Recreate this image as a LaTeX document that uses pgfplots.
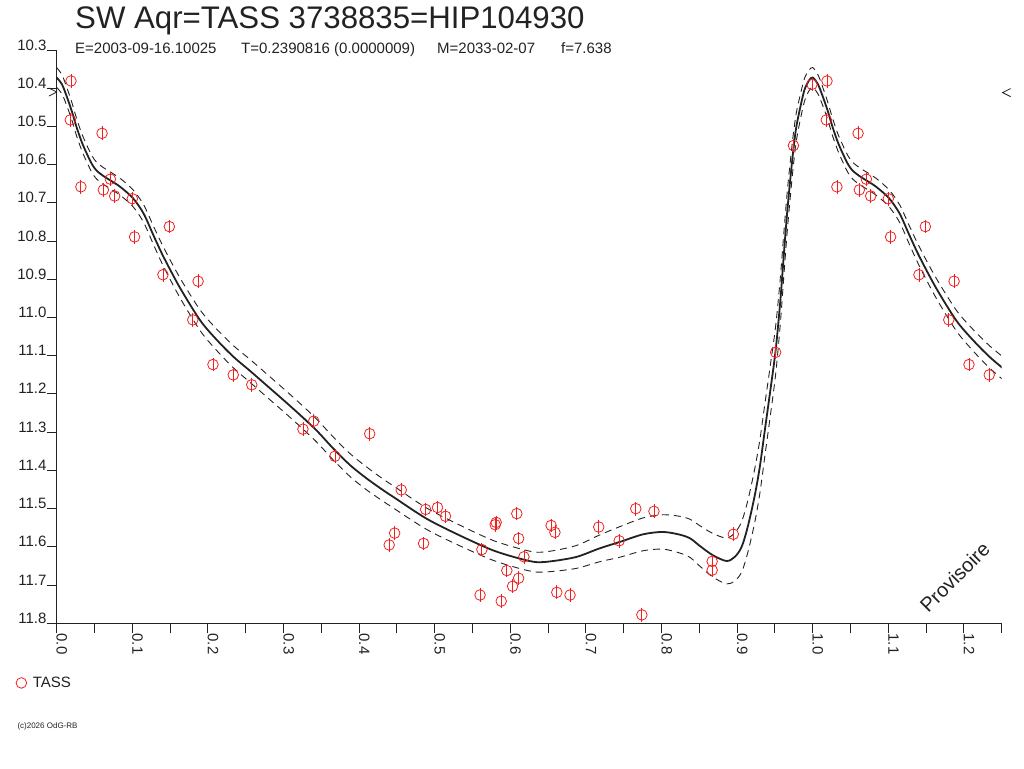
\documentclass[border=0pt]{standalone}
\usepackage{pgfplots}
\usepackage{pgfplotstable}
\pgfplotsset{compat=1.18}
\usepackage{fontspec}
\setmainfont{Liberation Sans}
\definecolor{ink}{HTML}{222222}
\definecolor{ptred}{HTML}{F02020}

\pgfplotstableread{
ph mag
0.0189 10.381
0.0180 10.483
0.0600 10.518
0.0320 10.658
0.0710 10.638
0.0617 10.666
0.0767 10.682
0.1000 10.689
0.1490 10.762
0.1030 10.789
0.1405 10.888
0.1870 10.905
0.1800 11.006
0.2067 11.123
0.2335 11.150
0.2580 11.176
0.3400 11.271
0.3257 11.292
0.4140 11.304
0.3680 11.363
0.4557 11.451
0.4880 11.502
0.5037 11.497
0.5143 11.520
0.4470 11.564
0.4398 11.595
0.4853 11.591
0.5813 11.536
0.5800 11.542
0.6086 11.513
0.5624 11.607
0.6110 11.578
0.6180 11.626
0.6540 11.544
0.6590 11.562
0.7170 11.548
0.7440 11.584
0.7660 11.500
0.7900 11.507
0.5954 11.662
0.6110 11.682
0.6030 11.703
0.5600 11.726
0.5880 11.742
0.6615 11.719
0.6790 11.726
0.7740 11.778
0.8950 11.567
0.8670 11.638
0.8670 11.661
0.9990 10.390
0.9745 10.550
0.9510 11.091
1.0189 10.381
1.0180 10.483
1.0600 10.518
1.0320 10.658
1.0710 10.638
1.0617 10.666
1.0767 10.682
1.1000 10.689
1.1490 10.762
1.1030 10.789
1.1405 10.888
1.1870 10.905
1.1800 11.006
1.2067 11.123
1.2335 11.150
}\tass

\pgfplotstableread{
ph mean up lo
0.000 10.372 10.346 10.398
0.007 10.390 10.365 10.415
0.013 10.420 10.396 10.444
0.020 10.460 10.437 10.483
0.026 10.500 10.477 10.523
0.033 10.540 10.518 10.562
0.040 10.572 10.550 10.594
0.047 10.600 10.578 10.622
0.053 10.616 10.594 10.638
0.062 10.630 10.608 10.652
0.070 10.640 10.618 10.662
0.084 10.658 10.636 10.680
0.101 10.688 10.666 10.710
0.115 10.728 10.705 10.751
0.128 10.785 10.761 10.809
0.141 10.840 10.815 10.865
0.163 10.922 10.896 10.948
0.190 11.008 10.981 11.035
0.212 11.059 11.031 11.087
0.234 11.103 11.074 11.132
0.256 11.140 11.110 11.170
0.278 11.178 11.148 11.208
0.300 11.216 11.186 11.246
0.322 11.255 11.225 11.285
0.344 11.296 11.266 11.326
0.366 11.343 11.313 11.373
0.388 11.386 11.356 11.416
0.410 11.421 11.391 11.451
0.432 11.452 11.423 11.481
0.445 11.469 11.440 11.498
0.489 11.526 11.498 11.554
0.533 11.570 11.543 11.597
0.577 11.609 11.583 11.635
0.613 11.631 11.605 11.657
0.635 11.640 11.614 11.666
0.657 11.637 11.610 11.664
0.688 11.626 11.596 11.656
0.718 11.604 11.569 11.639
0.745 11.587 11.547 11.627
0.776 11.567 11.524 11.610
0.802 11.561 11.516 11.606
0.824 11.568 11.520 11.616
0.838 11.578 11.528 11.628
0.851 11.598 11.545 11.651
0.868 11.622 11.565 11.679
0.886 11.637 11.577 11.697
0.897 11.626 11.563 11.689
0.906 11.600 11.534 11.666
0.914 11.548 11.480 11.616
0.923 11.469 11.399 11.539
0.930 11.391 11.321 11.461
0.937 11.290 11.222 11.358
0.944 11.190 11.124 11.256
0.951 11.085 11.022 11.148
0.957 10.960 10.900 11.020
0.962 10.830 10.774 10.886
0.966 10.730 10.678 10.782
0.970 10.645 10.598 10.692
0.974 10.568 10.526 10.610
0.978 10.505 10.468 10.542
0.983 10.455 10.422 10.488
0.989 10.405 10.375 10.435
0.995 10.380 10.353 10.407
1.000 10.372 10.346 10.398
1.007 10.390 10.365 10.415
1.013 10.420 10.396 10.444
1.020 10.460 10.437 10.483
1.026 10.500 10.477 10.523
1.033 10.540 10.518 10.562
1.040 10.572 10.550 10.594
1.047 10.600 10.578 10.622
1.053 10.616 10.594 10.638
1.062 10.630 10.608 10.652
1.070 10.640 10.618 10.662
1.084 10.658 10.636 10.680
1.101 10.688 10.666 10.710
1.115 10.728 10.705 10.751
1.128 10.785 10.761 10.809
1.141 10.840 10.815 10.865
1.163 10.922 10.896 10.948
1.190 11.008 10.981 11.035
1.212 11.059 11.031 11.087
1.234 11.103 11.074 11.132
1.256 11.140 11.110 11.170
}\fit

\begin{document}
\begin{tikzpicture}
\path[use as bounding box] (0pt,0pt) rectangle (1024pt,768pt);
\begin{axis}[
  at={(56.7pt,144.7pt)}, anchor=south west,
  scale only axis, width=945pt, height=573.3pt,
  xmin=0, xmax=1.25, ymin=10.3, ymax=11.8, y dir=reverse,
  axis x line*=bottom, axis y line*=left,
  x axis line style={-}, y axis line style={-},
  axis line style={ink, line width=1pt},
  clip mode=individual,
  xtick={0,0.1,0.2,0.3,0.4,0.5,0.6,0.7,0.8,0.9,1.0,1.1,1.2},
  minor xtick={0.05,0.15,0.25,0.35,0.45,0.55,0.65,0.75,0.85,0.95,1.05,1.15,1.25},
  ytick={10.3,10.4,10.5,10.6,10.7,10.8,10.9,11.0,11.1,11.2,11.3,11.4,11.5,11.6,11.7,11.8},
  tick align=outside, major tick length=10pt, minor tick length=10pt,
  tick style={ink, line width=1pt},
  xticklabel={\pgfmathprintnumber[fixed,fixed zerofill,precision=1,assume math mode=true]{\tick}},
  yticklabel={\pgfmathprintnumber[fixed,fixed zerofill,precision=1,assume math mode=true]{\tick}},
  xticklabel style={rotate=-90, anchor=base west, inner sep=0pt, font=\fontsize{15}{15}\selectfont, text=ink},
  yticklabel style={anchor=base east, inner sep=0pt, font=\fontsize{15}{15}\selectfont, text=ink},
  legend style={draw=none, fill=none, at={(axis description cs:-0.0434,-0.104)}, anchor=west,
    font=\fontsize{15}{15}\selectfont, inner sep=0pt, outer sep=0pt, nodes={inner sep=0pt, text=ink}},
  legend image code/.code={\draw[ptred, line width=0.8pt] (5.3pt,0pt) circle (5.3pt);},
]
\addplot[ink, line width=0.9pt, dash pattern=on 7pt off 5pt, smooth, forget plot] table[x=ph, y=up] {\fit};
\addplot[ink, line width=0.9pt, dash pattern=on 7pt off 5pt, smooth, forget plot] table[x=ph, y=lo] {\fit};
\addplot[ink, line width=1.8pt, smooth, forget plot] table[x=ph, y=mean] {\fit};
\addplot[only marks, mark=o, mark size=5.3pt, mark options={ptred, line width=0.8pt},
  error bars/.cd, y dir=both, y fixed=0.018, error mark=none,
  error bar style={ptred, line width=0.8pt}] table[x=ph, y=mag] {\tass};
\addlegendentry{\hspace{5.7pt}TASS}
\draw[ink, line width=0.8pt] (axis cs:-0.0102,10.3995) -- (axis cs:0,10.41) -- (axis cs:-0.0102,10.4205);
\draw[ink, line width=0.8pt] (axis cs:1.2618,10.401) -- (axis cs:1.2512,10.4115) -- (axis cs:1.2618,10.422);
\node[rotate=45, font=\fontsize{20}{20}\selectfont, text=ink] at (axis cs:1.188,11.68) {Provisoire};
\end{axis}
\node[anchor=base west, inner sep=0pt, font=\fontsize{31.2}{31.2}\selectfont, text=ink] at (75pt,739pt) {SW Aqr=TASS 3738835=HIP104930};
\node[anchor=base west, inner sep=0pt, font=\fontsize{15}{15}\selectfont, text=ink] at (75pt,714pt) {E=2003-09-16.10025};
\node[anchor=base west, inner sep=0pt, font=\fontsize{15}{15}\selectfont, text=ink] at (241pt,714pt) {T=0.2390816 (0.0000009)};
\node[anchor=base west, inner sep=0pt, font=\fontsize{15}{15}\selectfont, text=ink] at (437pt,714pt) {M=2033-02-07};
\node[anchor=base west, inner sep=0pt, font=\fontsize{15}{15}\selectfont, text=ink] at (561pt,714pt) {f=7.638};
\node[anchor=base west, inner sep=0pt, font=\fontsize{8}{8}\selectfont, text=ink] at (17.3pt,39.5pt) {(c)2026 OdG-RB};
\end{tikzpicture}
\end{document}
